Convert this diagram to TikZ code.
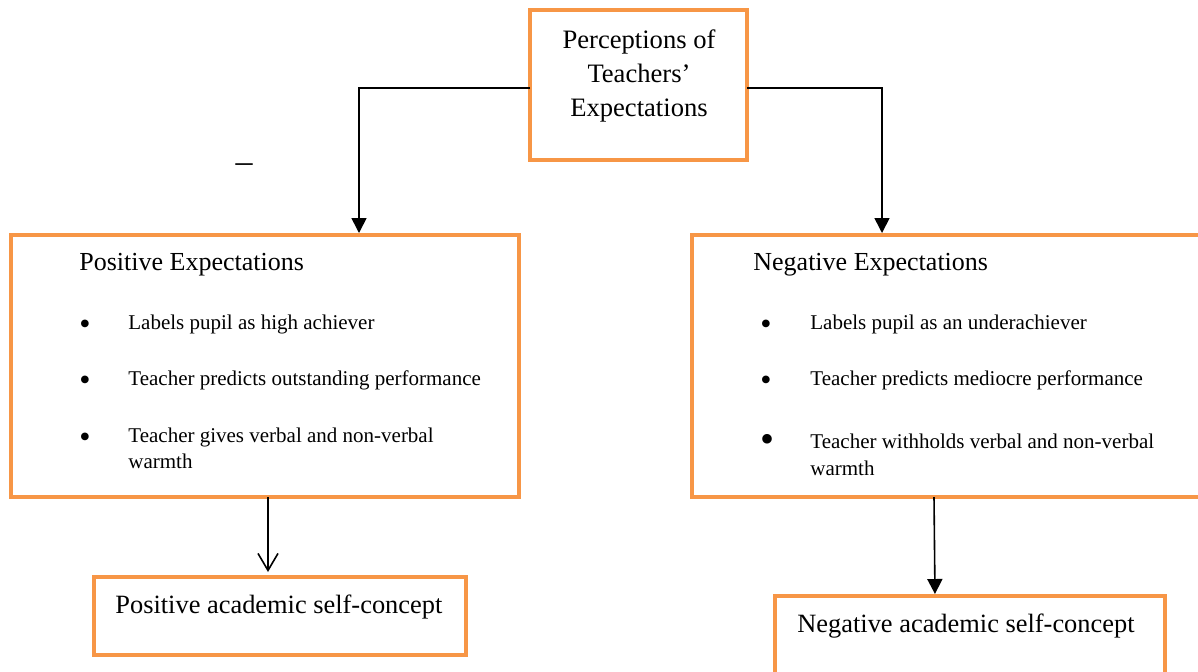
\documentclass[tikz,border=0pt]{standalone}
\usepackage{fontspec}
\setmainfont{Liberation Serif}
\usetikzlibrary{arrows.meta,fit}
\definecolor{boxorange}{RGB}{247,150,70}
\tikzset{
  obox/.style={draw=boxorange, line width=2.25pt, inner sep=0pt, outer sep=0pt},
  conn/.style={draw=black, line width=0.8pt},
  filledtip/.style={-{Triangle[width=7.5pt,length=7.5pt]}},
  opentip/.style={-{Straight Barb[width=10pt,length=8.5pt,line width=0.8pt]}},
  headtxt/.style={font=\fontsize{13}{16}\selectfont, anchor=base west, inner sep=0pt},
  itemtxt/.style={font=\fontsize{10.5}{13}\selectfont, anchor=base west, inner sep=0pt, align=left},
  bul/.style={font=\fontsize{16}{16}\selectfont, anchor=center, inner sep=0pt},
  bigbul/.style={font=\fontsize{20}{20}\selectfont, anchor=center, inner sep=0pt},
  outtxt/.style={font=\fontsize{13.2}{16}\selectfont, anchor=base west, inner sep=0pt},
}
\begin{document}
\begin{tikzpicture}[x=0.5pt,y=-0.5pt]
\path[use as bounding box] (0,0) rectangle (1198,671);
\clip (0,0) rectangle (1198,671);

% boxes
\node[obox, fit={(530,10) (747,160)}] (top) {};
\node[obox, fit={(11,235) (519,497)}] (pos) {};
\node[obox, fit={(692,235) (1210,497)}] (neg) {};
\node[obox, fit={(94,577) (466,655)}] (posc) {};
\node[obox, fit={(775,596) (1165,700)}] (negc) {};

% top text
\node[font=\fontsize{13.3}{17}\selectfont, align=center, inner sep=0pt, anchor=center]
  (toptxt) at (639,76) {Perceptions of\\Teachers’\\Expectations};

% stray dash
\node[font=\fontsize{17}{17}\selectfont, inner sep=0pt, anchor=center] (dash) at (244,168) {–};

% positive box contents
\node[headtxt] (posh) at (79,270) {Positive Expectations};
\node[bul] (pb1) at (85,327) {•};
\node[itemtxt] (pi1) at (128,329) {Labels pupil as high achiever};
\node[bul] (pb2) at (85,383) {•};
\node[itemtxt] (pi2) at (128,385) {Teacher predicts outstanding performance};
\node[bul] (pb3) at (85,440) {•};
\node[itemtxt] (pi3) at (128,442) {Teacher gives verbal and non-verbal};
\node[itemtxt] (pi3b) at (128,468) {warmth};

% negative box contents
\node[headtxt] (negh) at (753,270) {Negative Expectations};
\node[bul] (nb1) at (766,327) {•};
\node[itemtxt] (ni1) at (810,329) {Labels pupil as an underachiever};
\node[bul] (nb2) at (766,383) {•};
\node[itemtxt] (ni2) at (810,385) {Teacher predicts mediocre performance};
\node[bigbul] (nb3) at (767,443) {•};
\node[itemtxt] (ni3) at (810,448) {Teacher withholds verbal and non-verbal};
\node[itemtxt] (ni3b) at (810,475) {warmth};

% outcome texts
\node[outtxt] (posct) at (115,613) {Positive academic self-concept};
\node[outtxt] (negct) at (797,632) {Negative academic self-concept};

% connectors
\draw[conn, filledtip, shorten >=1pt] (top.west |- 0,88) -| (pos.north -| 359,0);
\draw[conn, filledtip, shorten >=1pt] (top.east |- 0,88) -| (neg.north -| 882,0);
\draw[conn, opentip, shorten >=2.5pt] (pos.south -| 268,0) -- (posc.north -| 268,0);
\draw[conn, filledtip, shorten >=1pt] (neg.south -| 934,0) -- (negc.north -| 935,0);
\end{tikzpicture}
\end{document}
